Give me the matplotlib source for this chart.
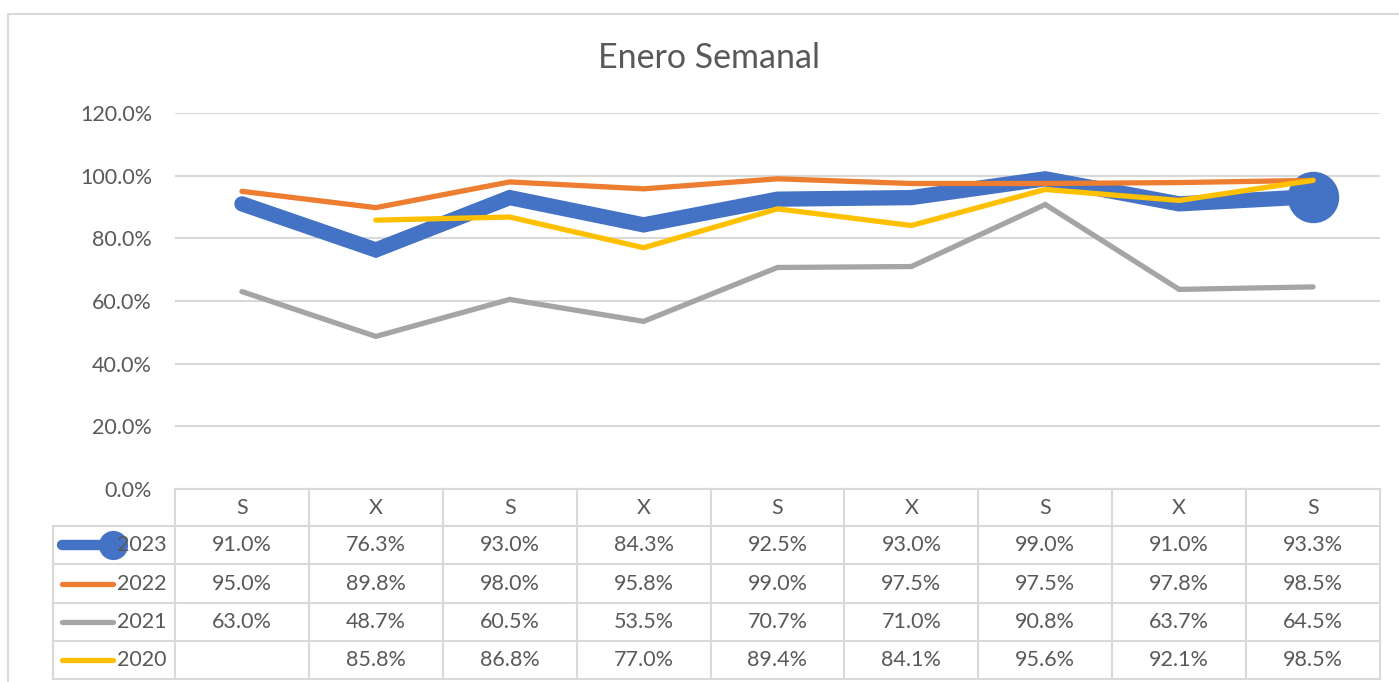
import numpy as np
import matplotlib
matplotlib.use("Agg")
import matplotlib.pyplot as plt
from matplotlib.ticker import FuncFormatter

plt.rcParams["font.family"] = ["Lato", "DejaVu Sans"]

# Data
categories = ["S", "X", "S", "X", "S", "X", "S", "X", "S"]
years = ["2023", "2022", "2021", "2020"]
v2023 = [0.910, 0.763, 0.930, 0.843, 0.925, 0.930, 0.990, 0.910, 0.933]
v2022 = [0.950, 0.898, 0.980, 0.958, 0.990, 0.975, 0.975, 0.978, 0.985]
v2021 = [0.630, 0.487, 0.605, 0.535, 0.707, 0.710, 0.908, 0.637, 0.645]
v2020 = [np.nan, 0.858, 0.868, 0.770, 0.894, 0.841, 0.956, 0.921, 0.985]
series = [v2023, v2022, v2021, v2020]
colors = ["#4472C4", "#ED7D31", "#A5A5A5", "#FFC000"]
widths = [11, 3.8, 3.8, 3.8]

W, H = 1399, 682
fig = plt.figure(figsize=(W / 100, H / 100), dpi=100, facecolor="white")

# Pixel layout
px_left, px_right = 175, 1380
px_top, px_bot = 113, 489
ax = fig.add_axes([px_left / W, (H - px_bot) / H, (px_right - px_left) / W, (px_bot - px_top) / H])
ax.set_xlim(-0.5, len(categories) - 0.5)
ax.set_ylim(0, 1.2)
ax.set_yticks(np.arange(0, 1.21, 0.2))
ax.yaxis.set_major_formatter(FuncFormatter(lambda v, p: "%.1f%%" % (v * 100)))
ax.tick_params(axis="y", length=0, pad=16.5, labelsize=15.5, labelcolor="#595959")
ax.set_xticks([])
for s in ax.spines.values():
    s.set_visible(False)
ax.grid(axis="y", color="#D9D9D9", linewidth=1.5)
ax.set_axisbelow(True)

x = np.arange(len(categories))
for k, (vals, c, lw) in enumerate(zip(series, colors, widths)):
    ax.plot(x, vals, color=c, linewidth=lw, solid_capstyle="round", solid_joinstyle="miter", zorder=3)
    if k == 0:
        # big marker on the last 2023 point, under the later series
        ax.plot(x[-1:], vals[-1:], "o", color=c, markersize=36, zorder=3)

# Overlay for table, border and title in pixel coordinates
ov = fig.add_axes([0, 0, 1, 1], facecolor="none")
ov.set_xlim(0, W)
ov.set_ylim(H, 0)
ov.axis("off")

grey = "#D9D9D9"
txt = "#595959"
# chart border
ov.plot([8, 8, W + 5], [H + 5, 14, 14], color=grey, linewidth=1.5)

ov.text(709, 58, "Enero Semanal", ha="center", va="center", fontsize=24.5, color=txt)

col_w = (px_right - px_left) / len(categories)
row_y = [489, 526, 564, 603, 641, 679]
leg_left = 53
# horizontal lines
ov.plot([px_left, px_right], [row_y[0], row_y[0]], color=grey, linewidth=1.5)
for yy in row_y[1:]:
    ov.plot([leg_left, px_right], [yy, yy], color=grey, linewidth=1.5)
# vertical lines
ov.plot([leg_left, leg_left], [row_y[1], row_y[-1]], color=grey, linewidth=1.5)
for i in range(len(categories) + 1):
    xx = px_left + i * col_w
    ov.plot([xx, xx], [row_y[0], row_y[-1]], color=grey, linewidth=1.5)

# header
for i, cat in enumerate(categories):
    ov.text(px_left + (i + 0.5) * col_w, (row_y[0] + row_y[1]) / 2, cat,
            ha="center", va="center", fontsize=15.5, color=txt)

# rows
for r, (yr, vals, c, lw) in enumerate(zip(years, series, colors, widths)):
    yc = (row_y[r + 1] + row_y[r + 2]) / 2
    ov.plot([62, 113], [yc, yc], color=c, linewidth=7.5 if r == 0 else lw,
            solid_capstyle="round")
    if r == 0:
        ov.plot([113], [yc], "o", color=c, markersize=20)
    ov.text(167, yc, yr, ha="right", va="center", fontsize=15.5, color=txt)
    for i, v in enumerate(vals):
        if np.isnan(v):
            continue
        ov.text(px_left + (i + 0.5) * col_w, yc, "%.1f%%" % (v * 100),
                ha="center", va="center", fontsize=15.5, color=txt)

fig.savefig("out.png", dpi=100, facecolor="white")
